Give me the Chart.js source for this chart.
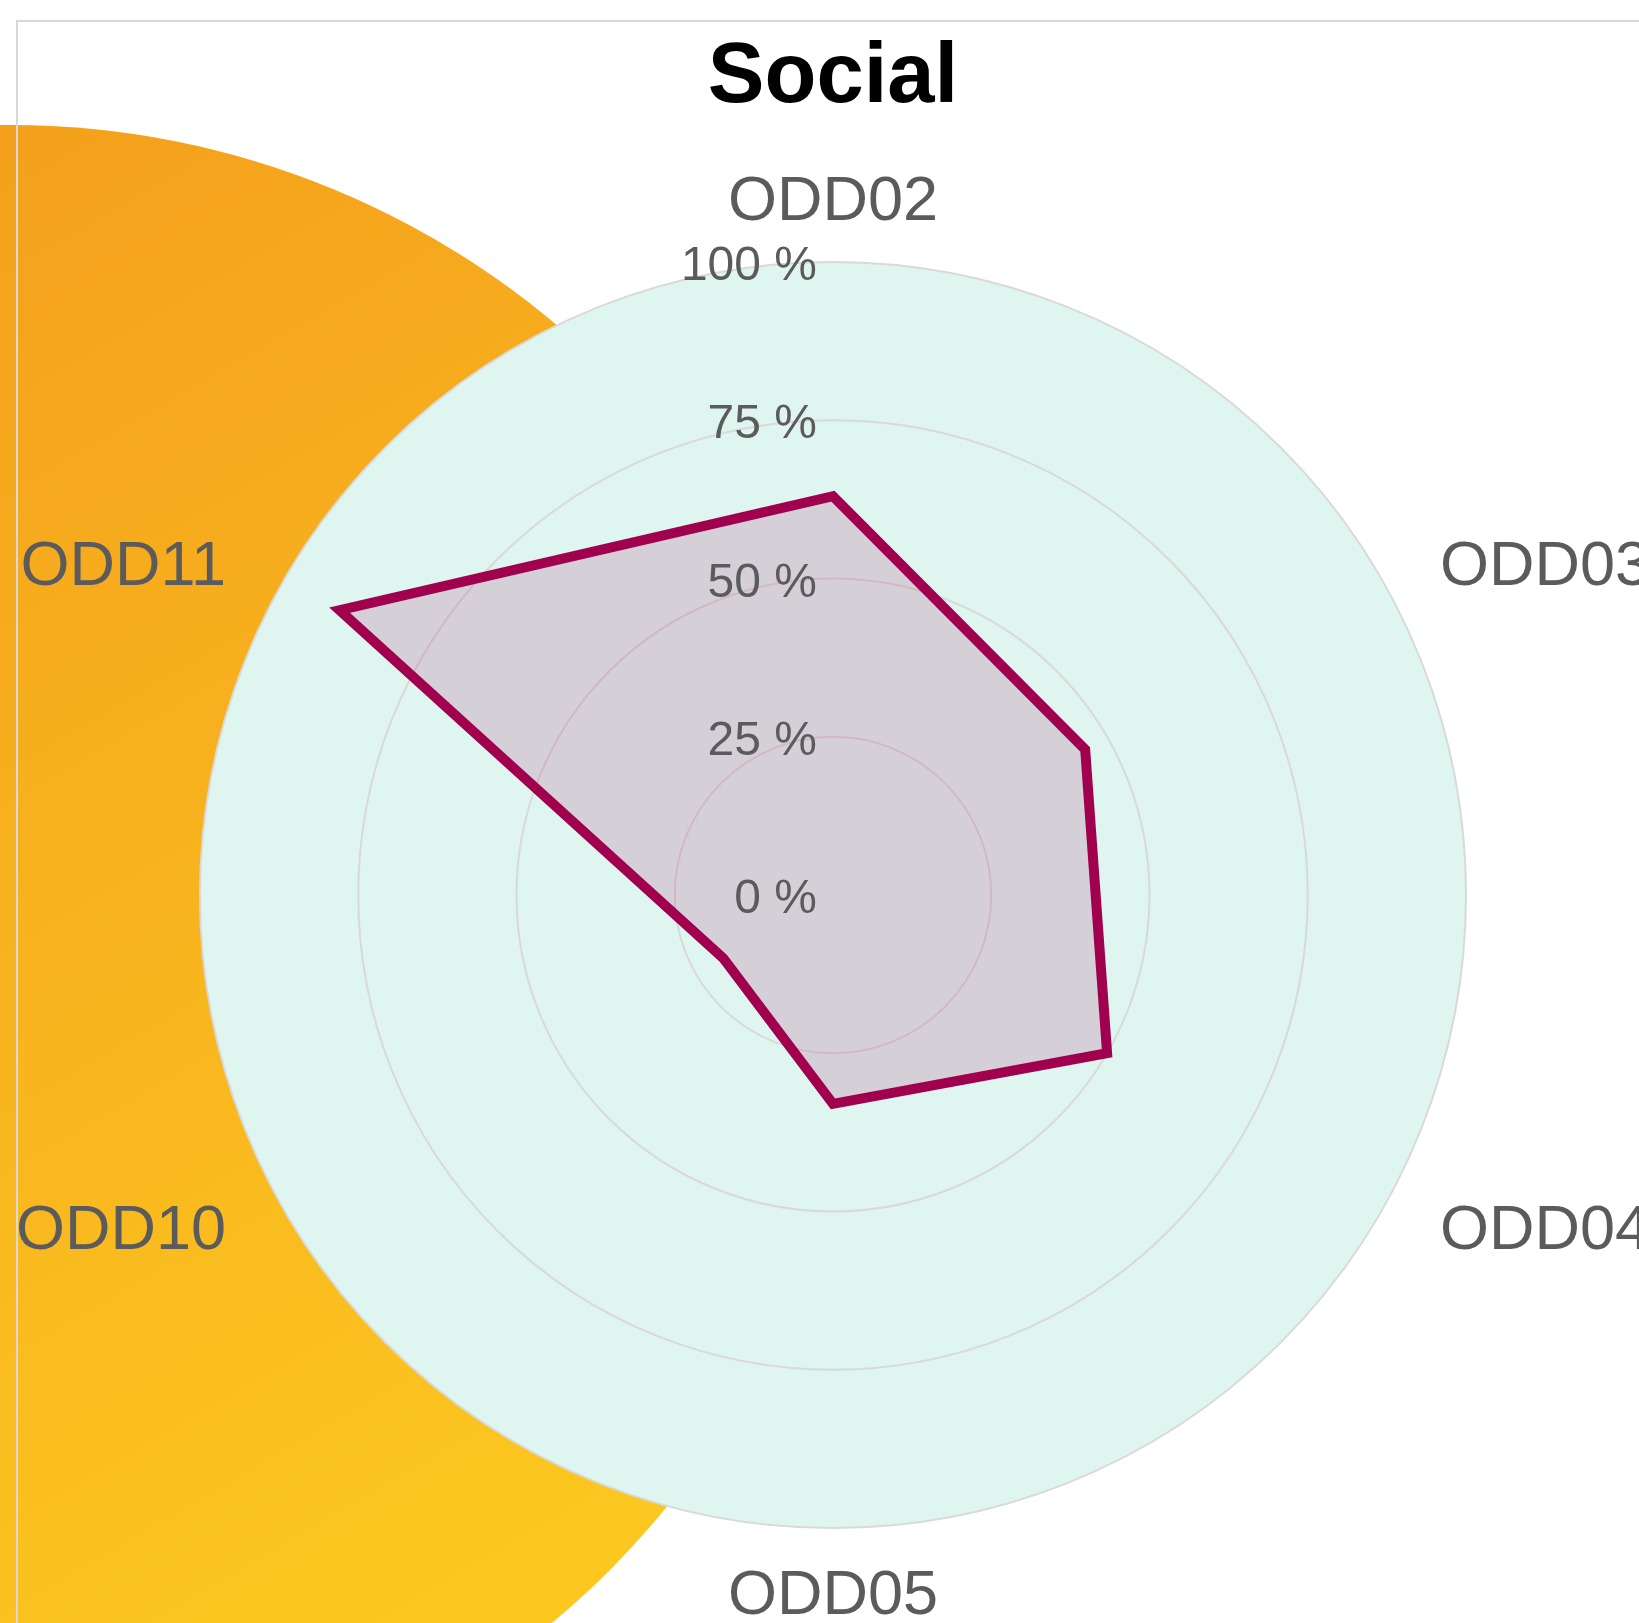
<!DOCTYPE html>
<html>
<head>
<meta charset="utf-8">
<title>Social</title>
<script src="https://cdn.jsdelivr.net/npm/chart.js@4.4.1/dist/chart.umd.min.js"></script>
<style>
  body { margin: 0; overflow: hidden; background: #ffffff; }
  #sun {
    position: absolute; left: -837px; top: 125px; width: 1694px; height: 1694px;
    border-radius: 50%;
    background: linear-gradient(150deg, #f4a01c 18%, #fcc820 85%);
  }
  #frame {
    position: absolute; left: 16px; top: 20px; width: 3000px; height: 3000px;
    border: 2px solid #d9d9d9; box-sizing: border-box;
  }
  #chart { position: absolute; left: 0; top: 0; }
</style>
</head>
<body>
<div id="sun"></div>
<div id="frame"></div>
<canvas id="chart" width="1666" height="1790"></canvas>
<script>
const categories = ['ODD02', 'ODD03', 'ODD04', 'ODD05', 'ODD10', 'ODD11'];
const socialScores = [63, 46, 50, 33, 20, 90];   // % per goal
const tickValues = [0, 25, 50, 75, 100];

const fontFamily = '"Liberation Sans", Arial, Helvetica, sans-serif';
const textGrey = '#5b5b5b';
const textDrop = 5;   // the font sits a bit high with a 'middle' baseline

// Draws the tick labels (right aligned next to the centre) and the goal names round the web
const radarText = {
  id: 'radarText',
  afterDatasetsDraw(chart) {
    const scale = chart.scales.r;
    const ctx = chart.ctx;
    ctx.save();
    ctx.fillStyle = textGrey;
    ctx.textBaseline = 'middle';

    ctx.font = '48px ' + fontFamily;
    ctx.textAlign = 'right';
    tickValues.forEach((v) => {
      const y = scale.yCenter - scale.getDistanceFromCenterForValue(v);
      ctx.fillText(v + ' %', scale.xCenter - 16, y + textDrop);
    });

    ctx.font = '63px ' + fontFamily;
    categories.forEach((name, i) => {
      const p = scale.getPointPosition(i, scale.drawingArea + 31);
      const dx = p.x - scale.xCenter;
      const dy = p.y - scale.yCenter;
      if (Math.abs(dx) < 1) {
        ctx.textAlign = 'center';
        ctx.fillText(name, p.x, p.y + Math.sign(dy) * 33 + textDrop);
      } else {
        ctx.textAlign = dx > 0 ? 'left' : 'right';
        ctx.fillText(name, p.x + Math.sign(dx) * 32, p.y + textDrop);
      }
    });
    ctx.restore();
  }
};

const chartConfig = {
  type: 'radar',
  data: {
    labels: categories,
    datasets: [
      {
        label: 'Social',
        data: socialScores,
        borderColor: '#a1004f',
        backgroundColor: 'rgba(161, 0, 79, 0.15)',
        borderWidth: 10,
        borderJoinStyle: 'miter',
        pointRadius: 0,
        pointHoverRadius: 0,
        fill: true,
        tension: 0,
      },
    ],
  },
  options: {
    responsive: false,
    animation: false,
    devicePixelRatio: 1,
    layout: { padding: { left: 200, right: 200, top: 0, bottom: 262 } },
    plugins: {
      legend: { display: false },
      tooltip: { enabled: false },
      title: {
        display: true,
        text: 'Social',
        color: '#000000',
        font: { family: fontFamily, size: 85, weight: 'bold', lineHeight: 1.2 },
        padding: { top: 28, bottom: 132 },
      },
    },
    scales: {
      r: {
        min: 0,
        max: 100,
        backgroundColor: '#dff5f0',
        angleLines: { display: false },
        grid: { circular: true, color: '#d9d9d9', lineWidth: 2 },
        ticks: { display: false, stepSize: 25 },
        pointLabels: { display: false },
      },
    },
  },
  plugins: [radarText],
};

new Chart(document.getElementById('chart'), chartConfig);
</script>
</body>
</html>
